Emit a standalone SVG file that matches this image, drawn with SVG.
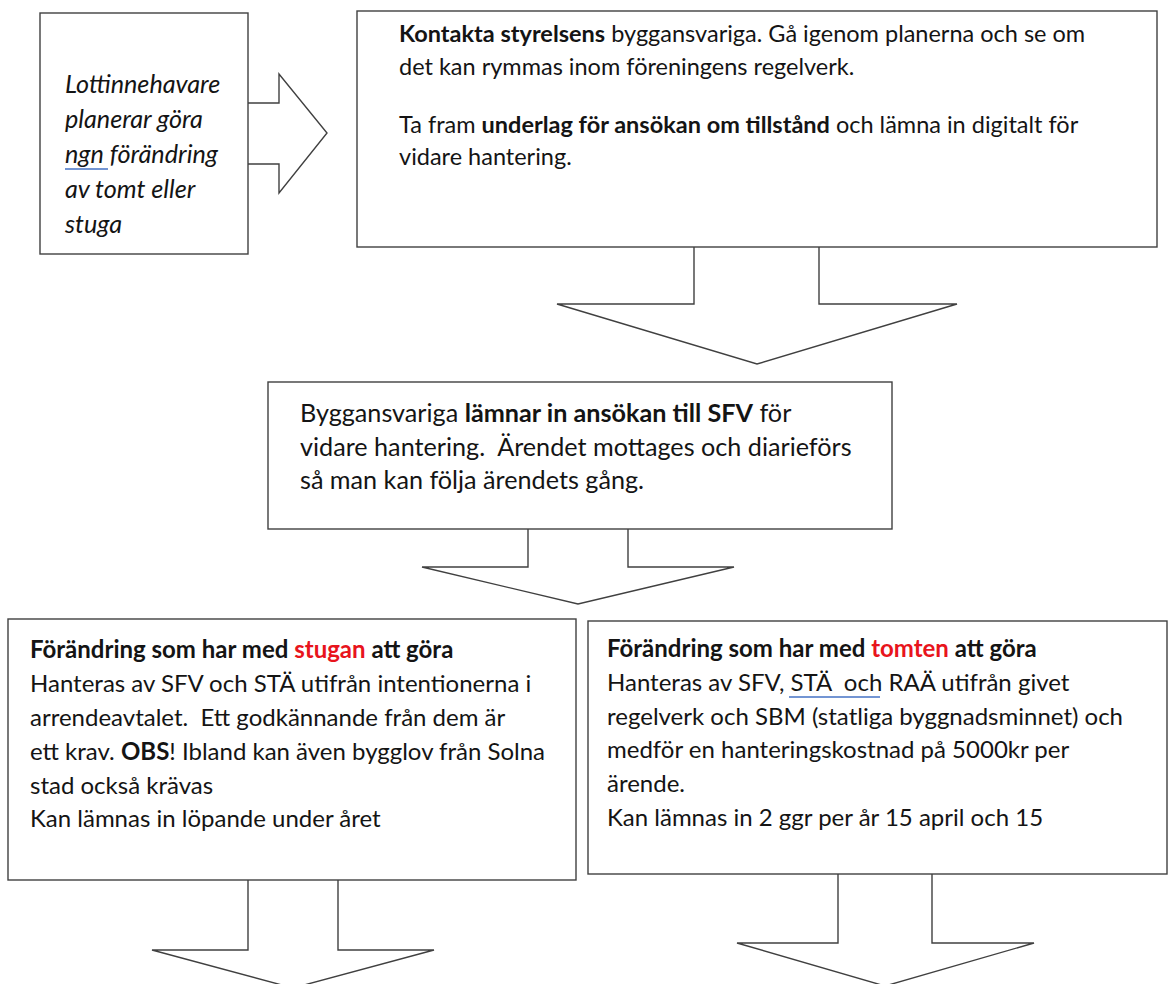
<svg xmlns="http://www.w3.org/2000/svg" width="1170" height="984" viewBox="0 0 1170 984">
<style>
  .box { fill: #ffffff; stroke: #404040; stroke-width: 1.4; }
  .arrow { fill: none; stroke: #404040; stroke-width: 1.4; stroke-linejoin: miter; }
  text { font-family: Lato, "Open Sans", "Liberation Sans", sans-serif; fill: #141414; white-space: pre; }
  .s1 { font-size: 25.2px; font-style: italic; }
  .s2 { font-size: 23.5px; }
  .s3 { font-size: 25.2px; }
  .s4 { font-size: 24px; }
  .b { font-weight: bold; }
  .red { fill: #e8141c; }
  .ul { stroke: #4472c4; stroke-width: 1.5; }
</style>
<rect width="1170" height="984" fill="#ffffff"/>

<g id="connectors">
  <path class="arrow" d="M248,103 H279 V74 L327,133 L279,193 V164 H248"/>
  <path class="arrow" d="M694,247 V304 H557 L757,364 L957,304 H819 V247"/>
  <path class="arrow" d="M528,529 V567 H422 L578,604 L734,567 H628 V529"/>
  <path class="arrow" d="M248,880 V950 H152 L293,988 L434,950 H338 V880"/>
  <path class="arrow" d="M838,874 V943 H737 L885,986 L1034,943 H932 V874"/>
</g>

<g id="node-start">
  <rect class="box" x="40" y="13" width="208" height="241"/>
  <text class="s1" x="65" y="93">Lottinnehavare</text>
  <text class="s1" x="65" y="128">planerar göra</text>
  <text class="s1" x="65" y="163">ngn förändring</text>
  <text class="s1" x="65" y="198">av tomt eller</text>
  <text class="s1" x="65" y="233">stuga</text>
  <line class="ul" x1="65" y1="169" x2="108" y2="169"/>
</g>

<g id="node-kontakta">
  <rect class="box" x="357" y="11" width="800" height="236"/>
  <text class="s2" x="399" y="42"><tspan class="b">Kontakta styrelsens</tspan> byggansvariga. Gå igenom planerna och se om</text>
  <text class="s2" x="399" y="75">det kan rymmas inom föreningens regelverk.</text>
  <text class="s2" x="399" y="133">Ta fram <tspan class="b">underlag för ansökan om tillstånd</tspan> och lämna in digitalt för</text>
  <text class="s2" x="399" y="165">vidare hantering.</text>
</g>

<g id="node-ansokan">
  <rect class="box" x="268" y="382" width="624" height="147"/>
  <text class="s3" x="300" y="422">Byggansvariga <tspan class="b">lämnar in ansökan till SFV</tspan> för</text>
  <text class="s3" x="300" y="456">vidare hantering.  Ärendet mottages och diarieförs</text>
  <text class="s3" x="300" y="489">så man kan följa ärendets gång.</text>
</g>

<g id="node-stugan">
  <rect class="box" x="8" y="619" width="568" height="261"/>
  <text x="30" y="658" class="s4 b">Förändring som har med <tspan class="red">stugan</tspan> att göra</text>
  <text class="s4" x="30" y="692">Hanteras av SFV och STÄ utifrån intentionerna i</text>
  <text class="s4" x="30" y="726">arrendeavtalet.  Ett godkännande från dem är</text>
  <text class="s4" x="30" y="760">ett krav. <tspan class="b">OBS</tspan>! Ibland kan även bygglov från Solna</text>
  <text class="s4" x="30" y="794">stad också krävas</text>
  <text class="s4" x="30" y="827">Kan lämnas in löpande under året</text>
</g>

<g id="node-tomten">
  <rect class="box" x="588" y="621" width="579" height="253"/>
  <text x="607" y="657" class="s4 b">Förändring som har med <tspan class="red">tomten</tspan> att göra</text>
  <text class="s4" x="607" y="691">Hanteras av SFV, STÄ  och RAÄ utifrån givet</text>
  <text class="s4" x="607" y="725">regelverk och SBM (statliga byggnadsminnet) och</text>
  <text class="s4" x="607" y="758">medför en hanteringskostnad på 5000kr per</text>
  <text class="s4" x="607" y="792">ärende.</text>
  <text class="s4" x="607" y="826">Kan lämnas in 2 ggr per år 15 april och 15</text>
  <line class="ul" x1="789" y1="697" x2="880" y2="697"/>
</g>
</svg>
